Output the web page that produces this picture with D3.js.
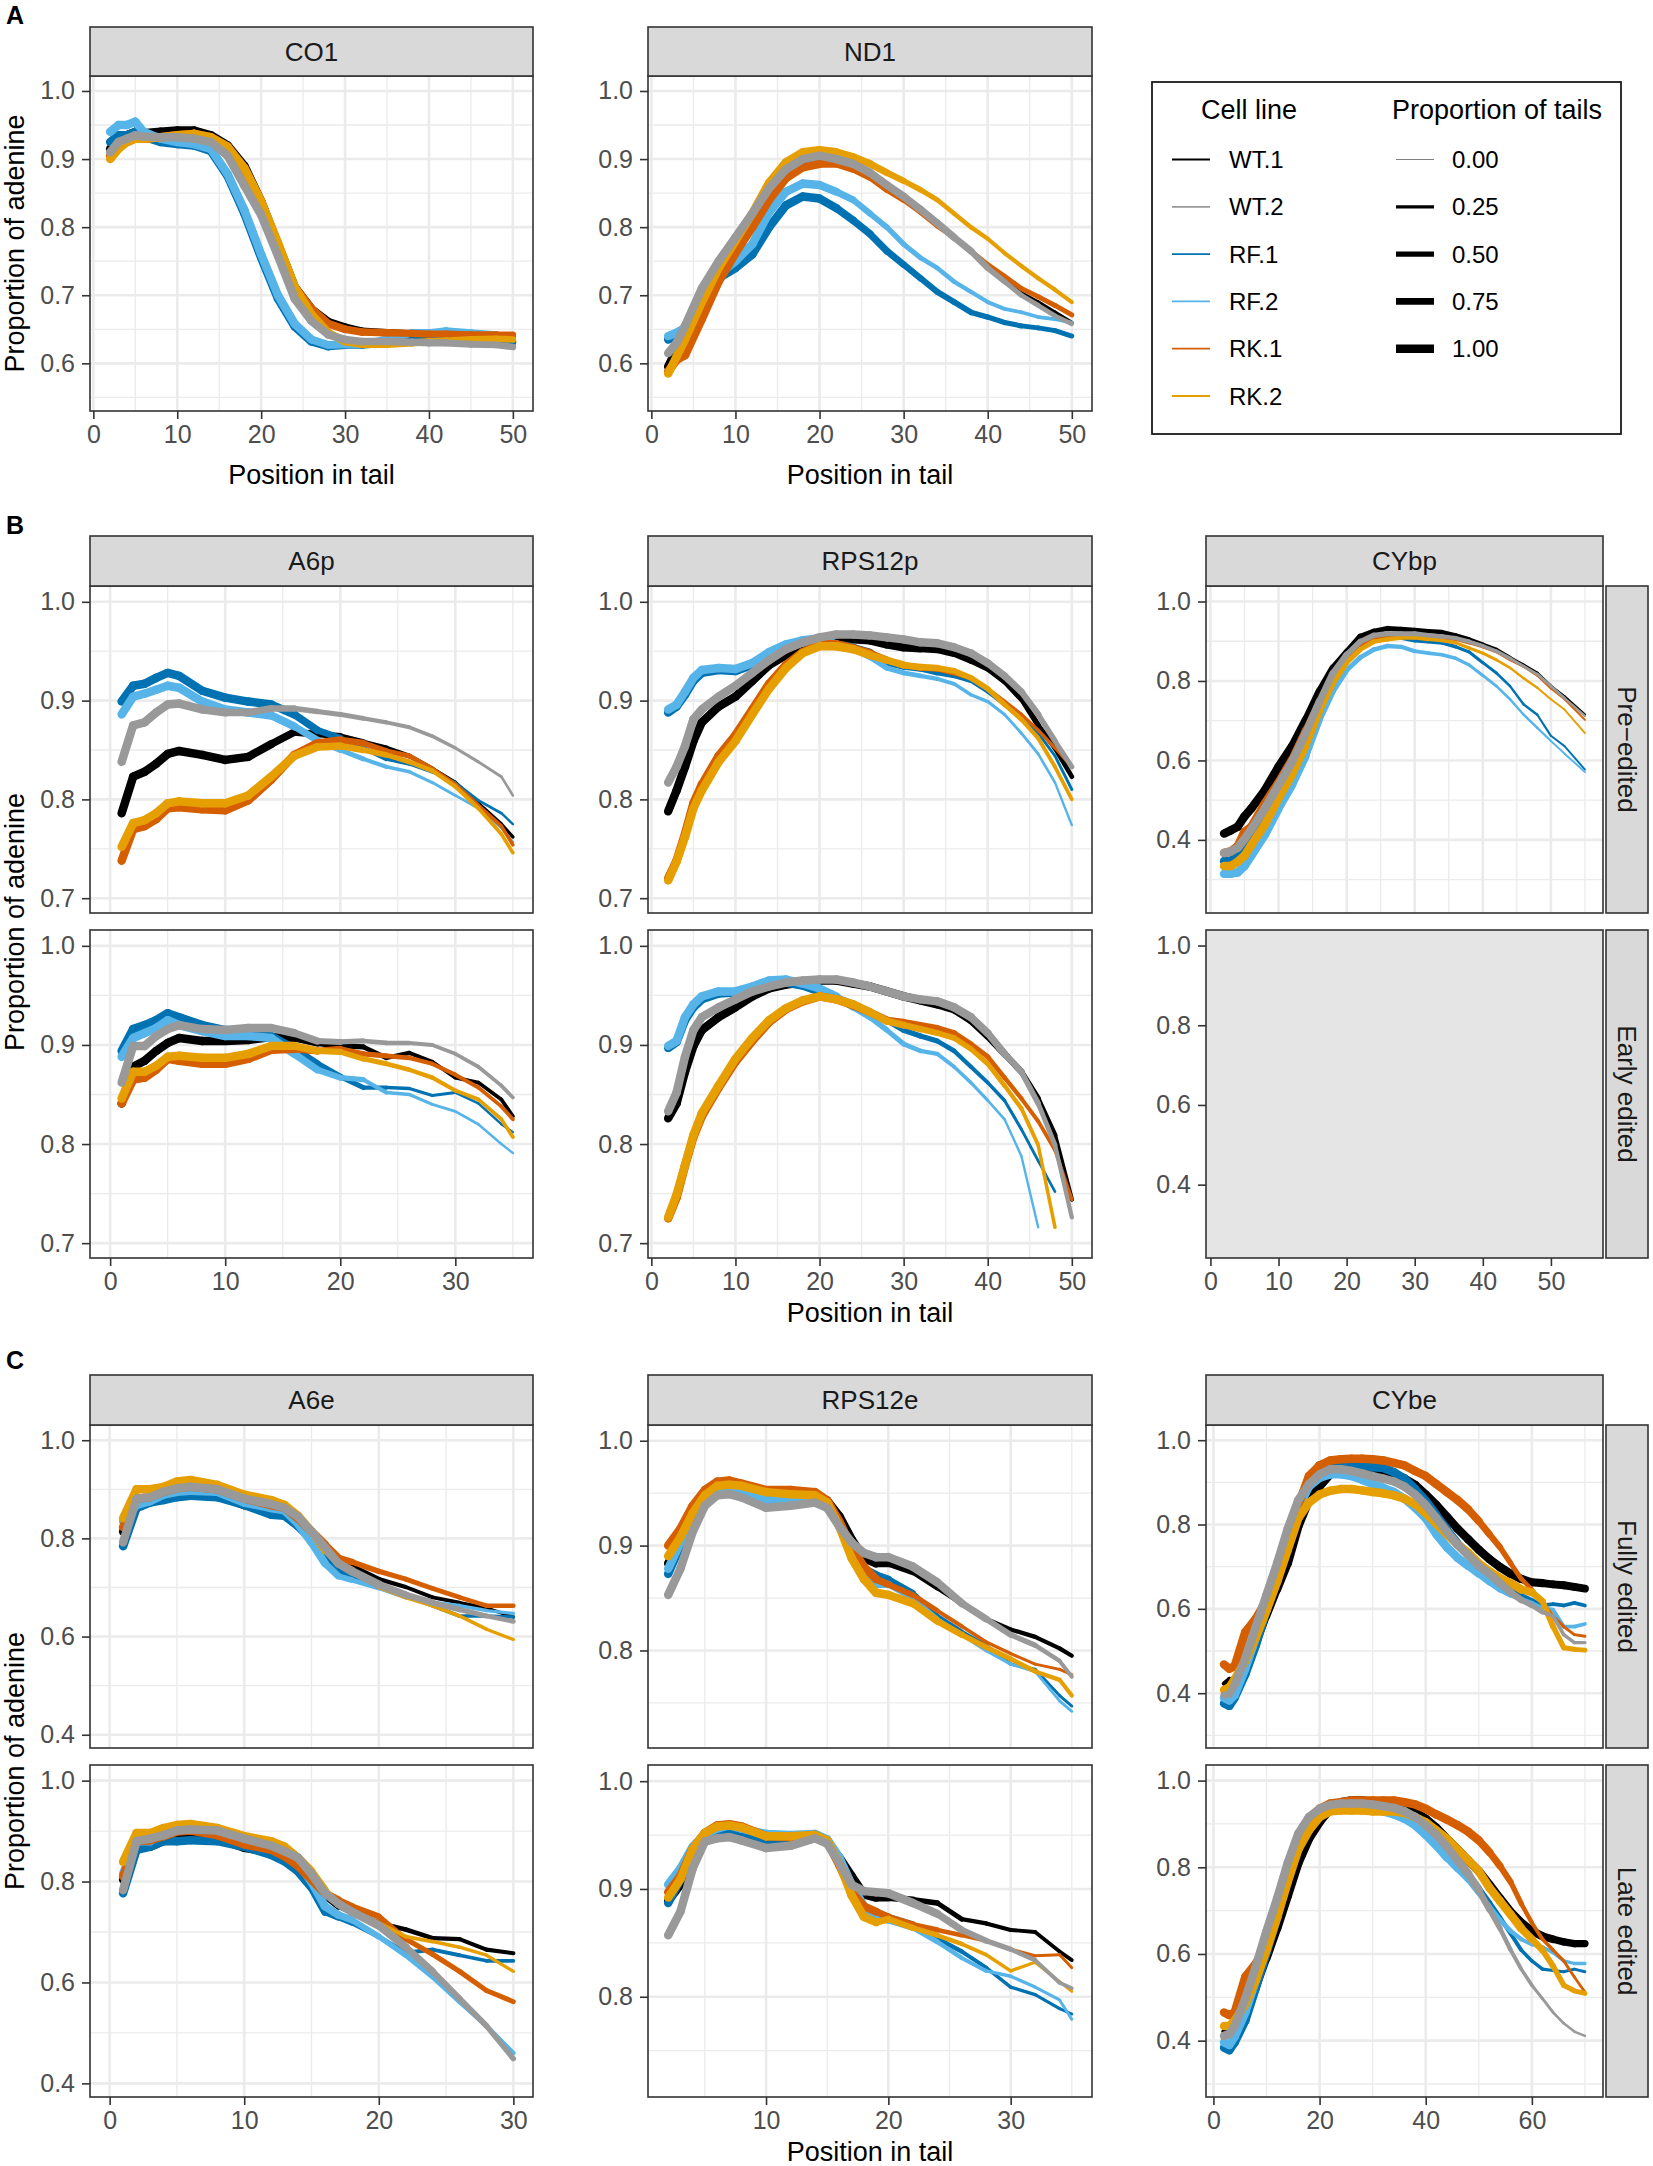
<!DOCTYPE html>
<html>
<head>
<meta charset="utf-8">
<script src="https://cdn.jsdelivr.net/npm/d3@7"></script>
<style>
  body { margin: 0; background: #ffffff; }
</style>
</head>
<body>
<div id="figure"></div>
<script>
// Legend categories
var cellLines = ["WT.1", "WT.2", "RF.1", "RF.2", "RK.1", "RK.2"];
var lineColors = ["#000000", "#999999", "#0072B2", "#56B4E9", "#D55E00", "#E69F00"];
var tailLevels = [0, 0.25, 0.5, 0.75, 1];
var tailLabels = ["0.00", "0.25", "0.50", "0.75", "1.00"];

// Tick labels
var xTicks50 = [0, 10, 20, 30, 40, 50];
var xMinor50 = [5, 15, 25, 35, 45];
var xMinor55 = [5, 15, 25, 35, 45, 55];
var xTicks30 = [0, 10, 20, 30];
var xMinor35 = [5, 15, 25, 35];
var xMinor30 = [5, 15, 25];
var xTicksRpsE = [10, 20, 30];
var xTicks70 = [0, 20, 40, 60];
var xMinor70 = [10, 30, 50, 70];
var yTicksA = [0.6, 0.7, 0.8, 0.9, 1.0];
var yMinorA = [0.55, 0.65, 0.75, 0.85, 0.95];
var yTicksB = [0.7, 0.8, 0.9, 1.0];
var yMinorB = [0.75, 0.85, 0.95];
var yTicksCy = [0.4, 0.6, 0.8, 1.0];
var yMinorCy = [0.3, 0.5, 0.7, 0.9];
var yMinorA6e = [0.5, 0.7, 0.9];
var yTicksRpsE = [0.8, 0.9, 1.0];

// ---- CO1 ----
var co1Pos = [2, 3, 4, 5, 6, 8, 10, 12, 14, 16, 18, 20, 22, 24, 26, 28, 30, 32, 35, 38, 40, 42, 45, 48, 50];
var co1WT1 = [0.915, 0.93, 0.935, 0.94, 0.938, 0.94, 0.942, 0.942, 0.935, 0.92, 0.89, 0.838, 0.775, 0.712, 0.68, 0.661, 0.653, 0.647, 0.645, 0.643, 0.642, 0.642, 0.640, 0.638, 0.632];
var co1WT2 = [0.91, 0.925, 0.93, 0.935, 0.933, 0.932, 0.932, 0.93, 0.925, 0.905, 0.861, 0.818, 0.758, 0.695, 0.662, 0.642, 0.635, 0.632, 0.632, 0.631, 0.630, 0.630, 0.628, 0.627, 0.624];
var co1RF1 = [0.925, 0.935, 0.935, 0.94, 0.933, 0.925, 0.922, 0.92, 0.912, 0.875, 0.82, 0.755, 0.695, 0.654, 0.632, 0.625, 0.627, 0.627, 0.630, 0.633, 0.635, 0.637, 0.637, 0.636, 0.630];
var co1RF2 = [0.94, 0.95, 0.95, 0.955, 0.94, 0.93, 0.925, 0.922, 0.915, 0.878, 0.825, 0.76, 0.70, 0.658, 0.635, 0.627, 0.628, 0.628, 0.635, 0.645, 0.645, 0.648, 0.645, 0.642, 0.638];
var co1RK1 = [0.905, 0.92, 0.925, 0.93, 0.93, 0.932, 0.935, 0.937, 0.932, 0.918, 0.885, 0.836, 0.775, 0.712, 0.68, 0.658, 0.65, 0.646, 0.645, 0.644, 0.643, 0.643, 0.642, 0.642, 0.642];
var co1RK2 = [0.90, 0.915, 0.925, 0.93, 0.93, 0.932, 0.935, 0.937, 0.932, 0.918, 0.887, 0.838, 0.777, 0.712, 0.672, 0.645, 0.632, 0.628, 0.628, 0.63, 0.632, 0.633, 0.635, 0.636, 0.635];
var co1Tails = [1, 1, 1, 1, 1, 1, 1, 1, 1, 1, 1, 1, 1, 1, 0.95, 0.9, 0.9, 0.85, 0.85, 0.8, 0.8, 0.75, 0.75, 0.7, 0.7];

// ---- ND1 ----
var nd1Pos = [2, 3, 4, 6, 8, 10, 12, 14, 16, 18, 20, 22, 24, 26, 28, 30, 32, 34, 36, 38, 40, 42, 44, 46, 48, 50];
var nd1WT1 = [0.595, 0.62, 0.64, 0.69, 0.735, 0.765, 0.805, 0.845, 0.875, 0.893, 0.90, 0.897, 0.888, 0.875, 0.858, 0.842, 0.825, 0.805, 0.785, 0.765, 0.742, 0.722, 0.703, 0.69, 0.675, 0.66];
var nd1WT2 = [0.615, 0.63, 0.655, 0.71, 0.75, 0.785, 0.82, 0.857, 0.885, 0.90, 0.905, 0.90, 0.893, 0.88, 0.862, 0.845, 0.826, 0.806, 0.785, 0.765, 0.74, 0.72, 0.70, 0.685, 0.67, 0.658];
var nd1RF1 = [0.635, 0.64, 0.648, 0.69, 0.725, 0.74, 0.76, 0.80, 0.832, 0.845, 0.842, 0.828, 0.81, 0.79, 0.765, 0.745, 0.725, 0.705, 0.69, 0.675, 0.668, 0.66, 0.655, 0.652, 0.648, 0.64];
var nd1RF2 = [0.64, 0.645, 0.652, 0.695, 0.73, 0.75, 0.775, 0.822, 0.852, 0.864, 0.862, 0.852, 0.84, 0.82, 0.80, 0.775, 0.755, 0.74, 0.72, 0.705, 0.69, 0.68, 0.675, 0.668, 0.665, 0.66];
var nd1RK1 = [0.588, 0.605, 0.612, 0.665, 0.72, 0.762, 0.80, 0.84, 0.872, 0.888, 0.893, 0.893, 0.885, 0.873, 0.855, 0.84, 0.822, 0.802, 0.785, 0.765, 0.745, 0.728, 0.71, 0.698, 0.685, 0.671];
var nd1RK2 = [0.585, 0.61, 0.635, 0.69, 0.74, 0.78, 0.82, 0.865, 0.895, 0.91, 0.913, 0.91, 0.903, 0.893, 0.88, 0.868, 0.855, 0.84, 0.82, 0.80, 0.783, 0.762, 0.743, 0.725, 0.708, 0.69];
var nd1TailsWT1 = [1, 1, 1, 1, 1, 1, 1, 1, 1, 1, 1, 0.9, 0.8, 0.7, 0.6, 0.5, 0.45, 0.4, 0.4, 0.35, 0.35, 0.3, 0.3, 0.3, 0.3, 0.3];
var nd1TailsWT2 = [1, 1, 1, 1, 1, 1, 1, 1, 1, 1, 1, 1, 1, 0.95, 0.9, 0.9, 0.85, 0.8, 0.8, 0.7, 0.6, 0.5, 0.45, 0.45, 0.4, 0.4];
var nd1TailsRF1 = [1, 1, 1, 1, 1, 1, 1, 1, 1, 1, 1, 0.9, 0.85, 0.8, 0.75, 0.7, 0.65, 0.6, 0.6, 0.55, 0.5, 0.5, 0.45, 0.45, 0.45, 0.45];
var nd1TailsRF2 = [1, 1, 1, 1, 1, 1, 1, 1, 1, 1, 1, 0.85, 0.7, 0.6, 0.55, 0.5, 0.45, 0.4, 0.4, 0.35, 0.35, 0.3, 0.3, 0.3, 0.3, 0.3];
var nd1TailsRK1 = [1, 1, 1, 1, 1, 1, 1, 1, 1, 1, 1, 0.85, 0.75, 0.65, 0.6, 0.55, 0.5, 0.5, 0.45, 0.45, 0.45, 0.45, 0.45, 0.45, 0.45, 0.45];
var nd1TailsRK2 = [1, 1, 1, 1, 1, 1, 1, 1, 1, 1, 1, 0.95, 0.9, 0.8, 0.7, 0.6, 0.5, 0.45, 0.4, 0.4, 0.35, 0.35, 0.35, 0.35, 0.35, 0.35];

// ---- A6p ----
var a6pPos = [1, 2, 3, 4, 5, 6, 8, 10, 12, 14, 16, 18, 20, 22, 24, 26, 28, 30, 32, 34, 35];
var a6pPreWT1 = [0.786, 0.823, 0.828, 0.836, 0.846, 0.849, 0.845, 0.84, 0.843, 0.856, 0.868, 0.866, 0.864, 0.858, 0.852, 0.844, 0.831, 0.817, 0.796, 0.775, 0.762];
var a6pPreWT2 = [0.838, 0.875, 0.878, 0.888, 0.896, 0.897, 0.891, 0.888, 0.888, 0.892, 0.892, 0.889, 0.886, 0.882, 0.878, 0.873, 0.864, 0.852, 0.838, 0.823, 0.804];
var a6pPreRF1 = [0.899, 0.915, 0.917, 0.923, 0.928, 0.925, 0.91, 0.903, 0.899, 0.896, 0.886, 0.87, 0.862, 0.852, 0.841, 0.836, 0.828, 0.817, 0.799, 0.786, 0.775];
var a6pPreRF2 = [0.886, 0.904, 0.907, 0.911, 0.915, 0.913, 0.899, 0.891, 0.888, 0.885, 0.874, 0.86, 0.85, 0.841, 0.833, 0.828, 0.817, 0.804, 0.791, 0.771, 0.757];
var a6pPreRK1 = [0.738, 0.77, 0.773, 0.78, 0.791, 0.792, 0.79, 0.789, 0.799, 0.82, 0.845, 0.857, 0.86, 0.857, 0.849, 0.844, 0.831, 0.815, 0.794, 0.773, 0.754];
var a6pPreRK2 = [0.752, 0.776, 0.779, 0.786, 0.796, 0.798, 0.796, 0.796, 0.804, 0.823, 0.844, 0.853, 0.854, 0.85, 0.845, 0.838, 0.829, 0.813, 0.791, 0.765, 0.746];
var a6pPreTailsWT1 = [1, 1, 1, 1, 1, 1, 1, 1, 1, 0.9, 0.8, 0.7, 0.6, 0.5, 0.45, 0.4, 0.35, 0.3, 0.3, 0.25, 0.25];
var a6pPreTailsWT2 = [1, 1, 1, 1, 1, 1, 1, 0.9, 0.8, 0.7, 0.6, 0.5, 0.45, 0.4, 0.35, 0.3, 0.3, 0.25, 0.2, 0.2, 0.15];
var a6pPreTailsRF1 = [1, 1, 1, 1, 1, 1, 1, 1, 1, 1, 0.9, 0.8, 0.6, 0.45, 0.35, 0.3, 0.25, 0.2, 0.2, 0.15, 0.15];
var a6pPreTailsRF2 = [1, 1, 1, 1, 1, 1, 1, 1, 1, 1, 0.85, 0.7, 0.5, 0.4, 0.3, 0.25, 0.2, 0.2, 0.15, 0.15, 0.15];
var a6pPreTailsRK = [1, 1, 1, 1, 1, 1, 1, 1, 1, 1, 1, 0.9, 0.8, 0.6, 0.5, 0.45, 0.4, 0.35, 0.3, 0.3, 0.25];

var a6pEarlyWT1 = [0.841, 0.878, 0.884, 0.894, 0.902, 0.907, 0.904, 0.904, 0.905, 0.908, 0.907, 0.902, 0.899, 0.898, 0.887, 0.892, 0.883, 0.867, 0.862, 0.845, 0.828];
var a6pEarlyWT2 = [0.862, 0.899, 0.899, 0.909, 0.916, 0.92, 0.916, 0.915, 0.917, 0.917, 0.912, 0.904, 0.903, 0.904, 0.902, 0.902, 0.90, 0.891, 0.878, 0.859, 0.847];
var a6pEarlyRF1 = [0.894, 0.916, 0.92, 0.925, 0.932, 0.928, 0.92, 0.915, 0.914, 0.909, 0.896, 0.881, 0.868, 0.857, 0.857, 0.856, 0.849, 0.852, 0.841, 0.82, 0.812];
var a6pEarlyRF2 = [0.888, 0.907, 0.912, 0.917, 0.925, 0.92, 0.914, 0.909, 0.909, 0.907, 0.891, 0.875, 0.867, 0.865, 0.852, 0.85, 0.84, 0.833, 0.82, 0.80, 0.791];
var a6pEarlyRK1 = [0.841, 0.865, 0.867, 0.875, 0.886, 0.884, 0.881, 0.881, 0.886, 0.895, 0.896, 0.894, 0.896, 0.891, 0.889, 0.887, 0.881, 0.87, 0.857, 0.838, 0.825];
var a6pEarlyRK2 = [0.846, 0.873, 0.873, 0.879, 0.888, 0.889, 0.887, 0.887, 0.891, 0.899, 0.899, 0.894, 0.893, 0.886, 0.881, 0.875, 0.867, 0.854, 0.845, 0.825, 0.807];
var a6pEarlyTailsWT = [1, 1, 1, 1, 1, 1, 1, 1, 1, 1, 0.9, 0.7, 0.55, 0.45, 0.4, 0.35, 0.3, 0.3, 0.3, 0.3, 0.3];
var a6pEarlyTailsRF = [1, 1, 1, 1, 1, 1, 1, 1, 1, 1, 0.9, 0.75, 0.55, 0.4, 0.3, 0.25, 0.2, 0.2, 0.15, 0.15, 0.15];
var a6pEarlyTailsRK = [1, 1, 1, 1, 1, 1, 1, 1, 1, 1, 0.9, 0.75, 0.6, 0.5, 0.45, 0.4, 0.35, 0.35, 0.3, 0.3, 0.3];

// ---- RPS12p ----
var rpsPPos = [2, 3, 4, 5, 6, 8, 10, 12, 14, 16, 18, 20, 22, 24, 26, 28, 30, 32, 34, 36, 38, 40, 42, 44, 46, 48, 50];
var rpsPreWT1 = [0.788, 0.809, 0.833, 0.859, 0.878, 0.894, 0.904, 0.92, 0.936, 0.946, 0.954, 0.961, 0.962, 0.962, 0.961, 0.957, 0.954, 0.953, 0.952, 0.948, 0.941, 0.933, 0.92, 0.902, 0.875, 0.852, 0.823];
var rpsPreWT2 = [0.817, 0.833, 0.854, 0.881, 0.891, 0.904, 0.915, 0.928, 0.941, 0.952, 0.959, 0.964, 0.967, 0.967, 0.966, 0.964, 0.962, 0.959, 0.958, 0.954, 0.948, 0.938, 0.925, 0.909, 0.886, 0.859, 0.833];
var rpsPreRF1 = [0.888, 0.894, 0.906, 0.92, 0.928, 0.931, 0.93, 0.936, 0.947, 0.955, 0.959, 0.961, 0.957, 0.954, 0.949, 0.938, 0.934, 0.932, 0.928, 0.925, 0.92, 0.909, 0.896, 0.881, 0.867, 0.844, 0.81];
var rpsPreRF2 = [0.891, 0.896, 0.909, 0.923, 0.931, 0.933, 0.932, 0.938, 0.949, 0.957, 0.961, 0.963, 0.957, 0.952, 0.944, 0.933, 0.928, 0.925, 0.922, 0.917, 0.906, 0.899, 0.886, 0.867, 0.846, 0.817, 0.774];
var rpsPreRK1 = [0.72, 0.738, 0.765, 0.796, 0.815, 0.844, 0.865, 0.891, 0.917, 0.936, 0.949, 0.957, 0.957, 0.953, 0.948, 0.941, 0.936, 0.933, 0.932, 0.928, 0.923, 0.912, 0.899, 0.886, 0.87, 0.852, 0.833];
var rpsPreRK2 = [0.718, 0.737, 0.762, 0.791, 0.809, 0.838, 0.859, 0.886, 0.912, 0.933, 0.948, 0.955, 0.955, 0.952, 0.946, 0.941, 0.936, 0.934, 0.933, 0.93, 0.923, 0.912, 0.896, 0.881, 0.862, 0.833, 0.80];
var rpsPreTailsWT1 = [1, 1, 1, 1, 1, 1, 1, 1, 1, 1, 1, 1, 1, 1, 1, 1, 1, 0.95, 0.9, 0.85, 0.8, 0.75, 0.7, 0.6, 0.5, 0.45, 0.4];
var rpsPreTailsWT2 = [1, 1, 1, 1, 1, 1, 1, 1, 1, 1, 1, 1, 1, 1, 1, 1, 1, 1, 1, 0.95, 0.9, 0.85, 0.8, 0.7, 0.6, 0.5, 0.45];
var rpsPreTailsRF1 = [1, 1, 1, 1, 1, 1, 1, 1, 1, 1, 1, 1, 1, 0.8, 0.7, 0.6, 0.55, 0.5, 0.45, 0.4, 0.35, 0.3, 0.3, 0.25, 0.2, 0.2, 0.2];
var rpsPreTailsRF2 = [1, 1, 1, 1, 1, 1, 1, 1, 1, 1, 1, 1, 0.8, 0.65, 0.55, 0.5, 0.45, 0.4, 0.35, 0.3, 0.25, 0.25, 0.2, 0.2, 0.2, 0.15, 0.15];
var rpsPreTailsRK1 = [1, 1, 1, 1, 1, 1, 1, 1, 1, 1, 1, 1, 1, 1, 0.85, 0.7, 0.6, 0.55, 0.5, 0.45, 0.4, 0.35, 0.3, 0.3, 0.25, 0.25, 0.2];
var rpsPreTailsRK2 = [1, 1, 1, 1, 1, 1, 1, 1, 1, 1, 1, 1, 1, 1, 0.9, 0.8, 0.75, 0.7, 0.65, 0.6, 0.55, 0.5, 0.45, 0.4, 0.35, 0.3, 0.3];

var rpsEarlyWT1 = [0.826, 0.841, 0.873, 0.899, 0.915, 0.928, 0.938, 0.949, 0.957, 0.961, 0.963, 0.965, 0.965, 0.962, 0.959, 0.954, 0.949, 0.945, 0.941, 0.936, 0.925, 0.909, 0.891, 0.873, 0.846, 0.809, 0.744];
var rpsEarlyWT2 = [0.833, 0.852, 0.888, 0.915, 0.928, 0.938, 0.946, 0.954, 0.959, 0.963, 0.965, 0.966, 0.966, 0.963, 0.959, 0.954, 0.949, 0.946, 0.944, 0.938, 0.928, 0.912, 0.891, 0.873, 0.841, 0.799, 0.726];
var rpsEarlyRF1 = [0.897, 0.903, 0.925, 0.938, 0.946, 0.952, 0.953, 0.957, 0.962, 0.963, 0.96, 0.954, 0.947, 0.941, 0.933, 0.925, 0.915, 0.909, 0.904, 0.894, 0.878, 0.862, 0.844, 0.815, 0.783, 0.752, null];
var rpsEarlyRF2 = [0.899, 0.904, 0.928, 0.941, 0.949, 0.954, 0.954, 0.959, 0.965, 0.966, 0.962, 0.957, 0.949, 0.938, 0.928, 0.915, 0.901, 0.894, 0.891, 0.878, 0.862, 0.844, 0.825, 0.788, 0.716, null, null];
var rpsEarlyRK1 = [0.725, 0.746, 0.778, 0.807, 0.828, 0.857, 0.883, 0.904, 0.923, 0.936, 0.944, 0.949, 0.946, 0.94, 0.933, 0.925, 0.923, 0.92, 0.917, 0.912, 0.901, 0.888, 0.867, 0.846, 0.823, 0.794, 0.744];
var rpsEarlyRK2 = [0.726, 0.749, 0.779, 0.809, 0.831, 0.859, 0.886, 0.907, 0.925, 0.937, 0.945, 0.949, 0.946, 0.941, 0.933, 0.924, 0.92, 0.916, 0.912, 0.907, 0.896, 0.881, 0.859, 0.836, 0.799, 0.716, null];
var rpsEarlyTailsWT1 = [1, 1, 1, 1, 1, 1, 1, 1, 1, 1, 1, 1, 1, 1, 1, 1, 1, 1, 1, 0.95, 0.9, 0.8, 0.7, 0.6, 0.5, 0.4, 0.35];
var rpsEarlyTailsWT2 = [1, 1, 1, 1, 1, 1, 1, 1, 1, 1, 1, 1, 1, 1, 1, 1, 1, 1, 1, 1, 0.95, 0.85, 0.75, 0.6, 0.5, 0.4, 0.35];
var rpsEarlyTailsRF1 = [1, 1, 1, 1, 1, 1, 1, 1, 1, 1, 1, 1, 0.9, 0.8, 0.7, 0.6, 0.55, 0.5, 0.45, 0.4, 0.35, 0.3, 0.25, 0.2, 0.2, 0.15, 0.15];
var rpsEarlyTailsRF2 = [1, 1, 1, 1, 1, 1, 1, 1, 1, 1, 1, 1, 0.85, 0.7, 0.6, 0.5, 0.45, 0.4, 0.35, 0.3, 0.25, 0.2, 0.15, 0.15, 0.15, 0.15, 0.15];
var rpsEarlyTailsRK1 = [1, 1, 1, 1, 1, 1, 1, 1, 1, 1, 1, 1, 1, 1, 0.9, 0.8, 0.7, 0.65, 0.6, 0.55, 0.5, 0.45, 0.4, 0.35, 0.3, 0.3, 0.25];
var rpsEarlyTailsRK2 = [1, 1, 1, 1, 1, 1, 1, 1, 1, 1, 1, 1, 1, 1, 0.9, 0.8, 0.7, 0.65, 0.6, 0.55, 0.5, 0.45, 0.4, 0.35, 0.3, 0.25, 0.25];

// ---- CYbp ----
var cybpPos = [2, 3, 4, 5, 6, 8, 10, 12, 14, 16, 18, 20, 22, 24, 26, 28, 30, 32, 34, 36, 38, 40, 42, 44, 46, 48, 50, 52, 55];
var cybpWT1 = [0.416, 0.424, 0.433, 0.459, 0.479, 0.525, 0.584, 0.636, 0.702, 0.774, 0.833, 0.873, 0.912, 0.925, 0.932, 0.93, 0.928, 0.925, 0.923, 0.915, 0.905, 0.892, 0.879, 0.859, 0.84, 0.82, 0.787, 0.761, 0.715];
var cybpWT2 = [0.367, 0.371, 0.38, 0.402, 0.426, 0.479, 0.538, 0.597, 0.669, 0.748, 0.82, 0.866, 0.899, 0.915, 0.919, 0.919, 0.919, 0.915, 0.912, 0.908, 0.899, 0.888, 0.875, 0.857, 0.837, 0.817, 0.787, 0.757, 0.712];
var cybpRF1 = [0.347, 0.347, 0.36, 0.38, 0.406, 0.459, 0.518, 0.577, 0.649, 0.728, 0.80, 0.853, 0.886, 0.905, 0.909, 0.909, 0.902, 0.899, 0.896, 0.886, 0.873, 0.846, 0.82, 0.787, 0.741, 0.715, 0.662, 0.636, 0.577];
var cybpRF2 = [0.315, 0.315, 0.318, 0.334, 0.36, 0.413, 0.479, 0.538, 0.61, 0.702, 0.774, 0.827, 0.859, 0.879, 0.888, 0.886, 0.875, 0.87, 0.866, 0.857, 0.84, 0.814, 0.787, 0.754, 0.715, 0.682, 0.649, 0.617, 0.571];
var cybpRK1 = [0.367, 0.371, 0.384, 0.42, 0.433, 0.492, 0.544, 0.603, 0.676, 0.748, 0.814, 0.859, 0.892, 0.909, 0.915, 0.915, 0.915, 0.912, 0.909, 0.905, 0.896, 0.886, 0.873, 0.853, 0.836, 0.814, 0.781, 0.754, 0.702];
var cybpRK2 = [0.334, 0.334, 0.345, 0.36, 0.387, 0.439, 0.505, 0.564, 0.636, 0.722, 0.794, 0.846, 0.879, 0.899, 0.905, 0.909, 0.909, 0.905, 0.902, 0.896, 0.883, 0.87, 0.853, 0.833, 0.807, 0.783, 0.754, 0.728, 0.669];
var cybpTailsWT = [1, 1, 1, 1, 1, 1, 1, 1, 0.9, 0.8, 0.7, 0.6, 0.55, 0.5, 0.5, 0.45, 0.45, 0.4, 0.4, 0.35, 0.35, 0.3, 0.3, 0.25, 0.2, 0.2, 0.2, 0.15, 0.15];
var cybpTailsOther = [1, 1, 1, 1, 1, 1, 1, 0.9, 0.8, 0.65, 0.55, 0.5, 0.45, 0.4, 0.4, 0.35, 0.35, 0.3, 0.3, 0.25, 0.25, 0.2, 0.2, 0.15, 0.15, 0.15, 0.1, 0.1, 0.1];

// ---- A6e ----
var a6ePos = [1, 2, 3, 4, 5, 6, 8, 10, 12, 13, 14, 15, 16, 17, 18, 20, 22, 24, 26, 28, 30];
var a6eFullWT1 = [0.814, 0.873, 0.876, 0.884, 0.889, 0.895, 0.887, 0.868, 0.857, 0.852, 0.833, 0.809, 0.782, 0.76, 0.744, 0.717, 0.701, 0.68, 0.669, 0.658, 0.64];
var a6eFullWT2 = [0.792, 0.881, 0.884, 0.895, 0.902, 0.905, 0.90, 0.881, 0.87, 0.862, 0.844, 0.814, 0.782, 0.749, 0.733, 0.706, 0.685, 0.669, 0.655, 0.642, 0.631];
var a6eFullRF1 = [0.784, 0.862, 0.873, 0.878, 0.884, 0.887, 0.884, 0.868, 0.848, 0.846, 0.825, 0.798, 0.76, 0.733, 0.723, 0.706, 0.685, 0.663, 0.642, 0.642, 0.64];
var a6eFullRF2 = [0.835, 0.868, 0.876, 0.889, 0.895, 0.897, 0.895, 0.873, 0.862, 0.857, 0.83, 0.792, 0.749, 0.723, 0.715, 0.699, 0.68, 0.669, 0.663, 0.653, 0.647];
var a6eFullRK1 = [0.823, 0.881, 0.884, 0.895, 0.902, 0.905, 0.90, 0.881, 0.868, 0.862, 0.841, 0.814, 0.787, 0.76, 0.752, 0.733, 0.717, 0.698, 0.68, 0.663, 0.663];
var a6eFullRK2 = [0.841, 0.90, 0.90, 0.905, 0.916, 0.919, 0.909, 0.889, 0.878, 0.868, 0.846, 0.814, 0.776, 0.749, 0.737, 0.701, 0.68, 0.663, 0.642, 0.615, 0.594];
var a6eFullTailsWT2 = [1, 1, 1, 1, 1, 1, 1, 1, 1, 1, 1, 1, 1, 1, 1, 0.9, 0.75, 0.6, 0.5, 0.45, 0.4];
var a6eFullTailsRK1 = [1, 1, 1, 1, 1, 1, 1, 1, 1, 1, 1, 1, 1, 0.8, 0.6, 0.5, 0.45, 0.45, 0.4, 0.4, 0.4];
var a6eFullTailsOther = [1, 1, 1, 1, 1, 1, 1, 1, 1, 1, 1, 1, 0.8, 0.65, 0.5, 0.4, 0.35, 0.3, 0.3, 0.25, 0.25];

var a6eLateWT1 = [0.804, 0.869, 0.869, 0.88, 0.885, 0.89, 0.885, 0.867, 0.858, 0.85, 0.837, 0.804, 0.772, 0.751, 0.74, 0.718, 0.705, 0.688, 0.686, 0.665, 0.658];
var a6eLateWT2 = [0.783, 0.88, 0.885, 0.892, 0.901, 0.903, 0.901, 0.885, 0.871, 0.86, 0.847, 0.815, 0.777, 0.756, 0.74, 0.713, 0.67, 0.622, 0.568, 0.514, 0.449];
var a6eLateRF1 = [0.777, 0.863, 0.869, 0.88, 0.88, 0.882, 0.88, 0.869, 0.853, 0.84, 0.82, 0.788, 0.74, 0.729, 0.718, 0.691, 0.659, 0.665, 0.654, 0.643, 0.643];
var a6eLateRF2 = [0.815, 0.88, 0.88, 0.896, 0.906, 0.906, 0.901, 0.88, 0.869, 0.855, 0.837, 0.799, 0.751, 0.734, 0.724, 0.691, 0.654, 0.611, 0.562, 0.514, 0.46];
var a6eLateRK1 = [0.81, 0.88, 0.882, 0.89, 0.899, 0.901, 0.892, 0.874, 0.863, 0.85, 0.831, 0.804, 0.777, 0.763, 0.751, 0.731, 0.686, 0.656, 0.622, 0.584, 0.562];
var a6eLateRK2 = [0.839, 0.896, 0.896, 0.906, 0.912, 0.914, 0.906, 0.89, 0.88, 0.869, 0.847, 0.82, 0.783, 0.756, 0.74, 0.718, 0.691, 0.681, 0.67, 0.654, 0.622];
var a6eLateTailsWT1 = [1, 1, 1, 1, 1, 1, 1, 1, 1, 1, 1, 1, 0.8, 0.6, 0.5, 0.45, 0.4, 0.4, 0.35, 0.35, 0.35];
var a6eLateTailsWT2 = [1, 1, 1, 1, 1, 1, 1, 1, 1, 1, 1, 1, 1, 1, 1, 1, 0.85, 0.7, 0.6, 0.55, 0.5];
var a6eLateTailsRF1 = [1, 1, 1, 1, 1, 1, 1, 1, 1, 1, 1, 1, 0.8, 0.6, 0.5, 0.4, 0.35, 0.35, 0.3, 0.3, 0.3];
var a6eLateTailsRF2 = [1, 1, 1, 1, 1, 1, 1, 1, 1, 1, 1, 1, 1, 0.85, 0.7, 0.55, 0.5, 0.45, 0.45, 0.4, 0.4];
var a6eLateTailsRK1 = [1, 1, 1, 1, 1, 1, 1, 1, 1, 1, 1, 1, 1, 0.8, 0.65, 0.55, 0.5, 0.5, 0.5, 0.45, 0.45];
var a6eLateTailsRK2 = [1, 1, 1, 1, 1, 1, 1, 1, 1, 1, 1, 1, 0.75, 0.55, 0.45, 0.35, 0.3, 0.3, 0.25, 0.25, 0.25];

// ---- RPS12e ----
var rpsEPos = [2, 3, 4, 5, 6, 7, 8, 10, 12, 14, 15, 16, 17, 18, 19, 20, 22, 24, 26, 28, 30, 32, 34, 35];
var rpsFullWT1 = [0.883, 0.903, 0.926, 0.946, 0.953, 0.954, 0.952, 0.944, 0.946, 0.947, 0.943, 0.928, 0.906, 0.888, 0.883, 0.883, 0.875, 0.86, 0.845, 0.83, 0.82, 0.813, 0.802, 0.795];
var rpsFullWT2 = [0.853, 0.878, 0.913, 0.938, 0.948, 0.949, 0.946, 0.936, 0.938, 0.941, 0.936, 0.918, 0.903, 0.893, 0.889, 0.889, 0.88, 0.865, 0.845, 0.83, 0.815, 0.805, 0.79, 0.775];
var rpsFullRF1 = [0.873, 0.90, 0.933, 0.951, 0.954, 0.953, 0.951, 0.943, 0.944, 0.947, 0.942, 0.921, 0.898, 0.878, 0.872, 0.868, 0.855, 0.833, 0.818, 0.805, 0.787, 0.782, 0.757, 0.747];
var rpsFullRF2 = [0.878, 0.903, 0.934, 0.951, 0.956, 0.955, 0.953, 0.943, 0.944, 0.947, 0.942, 0.918, 0.893, 0.874, 0.863, 0.863, 0.85, 0.83, 0.815, 0.80, 0.787, 0.78, 0.752, 0.742];
var rpsFullRK1 = [0.90, 0.916, 0.938, 0.953, 0.961, 0.962, 0.959, 0.953, 0.953, 0.951, 0.943, 0.923, 0.898, 0.88, 0.868, 0.863, 0.853, 0.838, 0.823, 0.808, 0.797, 0.787, 0.782, 0.777];
var rpsFullRK2 = [0.89, 0.908, 0.931, 0.948, 0.957, 0.958, 0.957, 0.951, 0.949, 0.948, 0.941, 0.918, 0.888, 0.868, 0.855, 0.853, 0.845, 0.828, 0.815, 0.803, 0.792, 0.78, 0.772, 0.757];
var rpsFullTailsWT1 = [1, 1, 1, 1, 1, 1, 1, 1, 1, 1, 1, 1, 1, 1, 1, 0.8, 0.6, 0.5, 0.45, 0.4, 0.4, 0.35, 0.35, 0.35];
var rpsFullTailsWT2 = [1, 1, 1, 1, 1, 1, 1, 1, 1, 1, 1, 1, 1, 1, 1, 1, 1, 1, 0.85, 0.7, 0.55, 0.45, 0.35, 0.3];
var rpsFullTailsRF = [1, 1, 1, 1, 1, 1, 1, 1, 1, 1, 1, 1, 1, 1, 0.85, 0.7, 0.5, 0.4, 0.3, 0.25, 0.25, 0.2, 0.2, 0.2];
var rpsFullTailsRK2 = [1, 1, 1, 1, 1, 1, 1, 1, 1, 1, 1, 1, 1, 1, 1, 1, 0.9, 0.75, 0.6, 0.5, 0.45, 0.4, 0.35, 0.35];

var rpsLateWT1 = [0.889, 0.904, 0.932, 0.947, 0.952, 0.953, 0.95, 0.944, 0.945, 0.948, 0.944, 0.929, 0.912, 0.895, 0.892, 0.892, 0.89, 0.887, 0.872, 0.868, 0.862, 0.86, 0.842, 0.834];
var rpsLateWT2 = [0.857, 0.879, 0.919, 0.944, 0.947, 0.948, 0.945, 0.938, 0.94, 0.947, 0.942, 0.924, 0.904, 0.898, 0.897, 0.896, 0.887, 0.877, 0.862, 0.852, 0.844, 0.834, 0.813, 0.808];
var rpsLateRF1 = [0.887, 0.909, 0.937, 0.949, 0.954, 0.953, 0.951, 0.946, 0.946, 0.949, 0.944, 0.927, 0.902, 0.882, 0.877, 0.874, 0.867, 0.854, 0.842, 0.827, 0.809, 0.802, 0.789, 0.784];
var rpsLateRF2 = [0.904, 0.919, 0.939, 0.951, 0.956, 0.959, 0.956, 0.951, 0.95, 0.951, 0.946, 0.929, 0.904, 0.884, 0.874, 0.871, 0.864, 0.851, 0.836, 0.824, 0.819, 0.809, 0.797, 0.779];
var rpsLateRK1 = [0.897, 0.912, 0.937, 0.952, 0.959, 0.96, 0.958, 0.949, 0.948, 0.95, 0.944, 0.922, 0.897, 0.884, 0.879, 0.874, 0.867, 0.862, 0.857, 0.852, 0.844, 0.838, 0.839, 0.827];
var rpsLateRK2 = [0.892, 0.909, 0.937, 0.952, 0.958, 0.959, 0.957, 0.949, 0.949, 0.95, 0.945, 0.924, 0.894, 0.874, 0.869, 0.872, 0.864, 0.857, 0.849, 0.839, 0.824, 0.832, 0.814, 0.805];
var rpsLateTailsWT1 = [1, 1, 1, 1, 1, 1, 1, 1, 1, 1, 1, 1, 1, 1, 1, 0.8, 0.6, 0.5, 0.4, 0.35, 0.35, 0.3, 0.3, 0.3];
var rpsLateTailsWT2 = [1, 1, 1, 1, 1, 1, 1, 1, 1, 1, 1, 1, 1, 1, 1, 1, 1, 0.85, 0.7, 0.55, 0.45, 0.35, 0.3, 0.3];
var rpsLateTailsOther = [1, 1, 1, 1, 1, 1, 1, 1, 1, 1, 1, 1, 1, 1, 0.85, 0.7, 0.55, 0.45, 0.35, 0.3, 0.25, 0.25, 0.2, 0.2];

// ---- CYbe ----
var cybePos = [2, 3, 4, 6, 8, 10, 12, 14, 16, 18, 20, 22, 24, 26, 28, 30, 32, 34, 36, 38, 40, 42, 44, 46, 48, 50, 52, 54, 56, 58, 60, 62, 64, 66, 68, 70];
var cybeFullWT1 = [0.423, 0.433, 0.42, 0.445, 0.514, 0.583, 0.646, 0.708, 0.796, 0.858, 0.89, 0.919, 0.931, 0.934, 0.931, 0.927, 0.924, 0.919, 0.909, 0.894, 0.871, 0.846, 0.818, 0.79, 0.765, 0.74, 0.718, 0.699, 0.683, 0.671, 0.663, 0.661, 0.658, 0.656, 0.652, 0.648];
var cybeFullWT2 = [0.395, 0.398, 0.42, 0.483, 0.558, 0.633, 0.708, 0.79, 0.858, 0.896, 0.919, 0.931, 0.931, 0.927, 0.921, 0.915, 0.909, 0.902, 0.89, 0.871, 0.846, 0.815, 0.783, 0.752, 0.727, 0.702, 0.683, 0.661, 0.639, 0.621, 0.608, 0.592, 0.583, 0.539, 0.52, 0.52];
var cybeFullRF1 = [0.376, 0.37, 0.389, 0.445, 0.514, 0.596, 0.677, 0.765, 0.846, 0.909, 0.94, 0.949, 0.949, 0.944, 0.94, 0.936, 0.934, 0.924, 0.909, 0.884, 0.856, 0.823, 0.79, 0.758, 0.733, 0.708, 0.689, 0.671, 0.652, 0.633, 0.621, 0.608, 0.611, 0.608, 0.614, 0.608];
var cybeFullRF2 = [0.389, 0.383, 0.395, 0.458, 0.533, 0.608, 0.683, 0.765, 0.84, 0.89, 0.911, 0.919, 0.919, 0.915, 0.906, 0.896, 0.887, 0.877, 0.861, 0.84, 0.815, 0.777, 0.746, 0.721, 0.702, 0.683, 0.664, 0.646, 0.633, 0.623, 0.614, 0.602, 0.598, 0.558, 0.558, 0.564];
var cybeFullRK1 = [0.468, 0.458, 0.464, 0.545, 0.577, 0.62, 0.689, 0.765, 0.846, 0.915, 0.94, 0.952, 0.955, 0.956, 0.956, 0.955, 0.952, 0.946, 0.94, 0.927, 0.915, 0.896, 0.877, 0.858, 0.836, 0.808, 0.777, 0.746, 0.708, 0.671, 0.646, 0.614, 0.583, 0.558, 0.539, 0.535];
var cybeFullRK2 = [0.408, 0.414, 0.433, 0.477, 0.533, 0.596, 0.664, 0.74, 0.815, 0.852, 0.871, 0.88, 0.884, 0.884, 0.881, 0.877, 0.874, 0.869, 0.861, 0.848, 0.827, 0.802, 0.777, 0.752, 0.733, 0.708, 0.689, 0.673, 0.661, 0.646, 0.639, 0.618, 0.558, 0.508, 0.504, 0.502];
var cybeFullTailsWT1 = [0.4, 0.4, 0.5, 0.6, 0.7, 0.8, 0.9, 1, 1, 1, 1, 1, 1, 1, 1, 1, 1, 1, 1, 1, 1, 1, 1, 1, 1, 1, 1, 1, 1, 0.95, 0.95, 0.9, 0.9, 0.9, 0.9, 0.9];
var cybeFullTailsWT2 = [0.8, 0.8, 0.9, 1, 1, 1, 1, 1, 1, 1, 1, 1, 1, 1, 1, 1, 1, 1, 1, 1, 1, 1, 1, 1, 1, 1, 1, 1, 0.8, 0.6, 0.45, 0.35, 0.3, 0.3, 0.25, 0.25];
var cybeFullTailsRF1 = [1, 1, 1, 1, 1, 1, 1, 1, 1, 1, 1, 1, 1, 1, 1, 1, 1, 1, 1, 1, 1, 1, 0.8, 0.7, 0.6, 0.55, 0.5, 0.45, 0.4, 0.35, 0.3, 0.3, 0.3, 0.3, 0.3, 0.3];
var cybeFullTailsRF2 = [1, 1, 1, 1, 1, 1, 1, 1, 1, 1, 1, 1, 1, 1, 1, 1, 1, 1, 1, 1, 1, 1, 1, 1, 1, 0.8, 0.7, 0.6, 0.5, 0.4, 0.35, 0.3, 0.3, 0.3, 0.3, 0.3];
var cybeFullTailsRK1 = [1, 1, 1, 1, 1, 1, 1, 1, 1, 1, 1, 1, 1, 1, 1, 1, 1, 1, 1, 1, 1, 1, 1, 1, 1, 0.8, 0.7, 0.6, 0.5, 0.4, 0.35, 0.3, 0.25, 0.2, 0.2, 0.2];
var cybeTailsRK2 = [1, 1, 1, 1, 1, 1, 1, 1, 1, 1, 1, 1, 1, 1, 1, 1, 1, 1, 1, 1, 1, 1, 1, 1, 1, 1, 1, 1, 1, 1, 0.8, 0.65, 0.55, 0.5, 0.45, 0.45];

var cybeLateWT1 = [0.421, 0.431, 0.421, 0.459, 0.522, 0.59, 0.659, 0.734, 0.81, 0.866, 0.904, 0.935, 0.95, 0.954, 0.954, 0.951, 0.95, 0.947, 0.941, 0.929, 0.912, 0.891, 0.866, 0.841, 0.816, 0.791, 0.76, 0.728, 0.697, 0.672, 0.653, 0.641, 0.634, 0.628, 0.624, 0.624];
var cybeLateWT2 = [0.411, 0.415, 0.434, 0.497, 0.572, 0.653, 0.728, 0.81, 0.878, 0.916, 0.935, 0.944, 0.947, 0.947, 0.947, 0.945, 0.941, 0.937, 0.929, 0.916, 0.897, 0.875, 0.847, 0.816, 0.785, 0.747, 0.703, 0.659, 0.609, 0.565, 0.528, 0.497, 0.465, 0.44, 0.421, 0.411];
var cybeLateRF1 = [0.384, 0.378, 0.396, 0.446, 0.522, 0.603, 0.684, 0.772, 0.847, 0.897, 0.929, 0.944, 0.947, 0.947, 0.945, 0.941, 0.937, 0.935, 0.925, 0.91, 0.891, 0.866, 0.841, 0.812, 0.785, 0.753, 0.719, 0.684, 0.647, 0.609, 0.584, 0.565, 0.562, 0.559, 0.565, 0.559];
var cybeLateRF2 = [0.396, 0.39, 0.409, 0.465, 0.54, 0.622, 0.703, 0.791, 0.86, 0.904, 0.929, 0.941, 0.944, 0.941, 0.937, 0.935, 0.929, 0.922, 0.912, 0.897, 0.875, 0.85, 0.822, 0.797, 0.772, 0.741, 0.709, 0.678, 0.653, 0.634, 0.622, 0.616, 0.603, 0.584, 0.578, 0.578];
var cybeLateRK1 = [0.465, 0.459, 0.465, 0.547, 0.578, 0.622, 0.691, 0.772, 0.853, 0.91, 0.935, 0.947, 0.95, 0.954, 0.954, 0.954, 0.954, 0.954, 0.95, 0.945, 0.935, 0.922, 0.91, 0.897, 0.882, 0.862, 0.835, 0.803, 0.766, 0.716, 0.672, 0.634, 0.609, 0.584, 0.547, 0.512];
var cybeLateRK2 = [0.434, 0.434, 0.446, 0.484, 0.54, 0.609, 0.684, 0.766, 0.841, 0.885, 0.916, 0.929, 0.931, 0.931, 0.931, 0.929, 0.929, 0.929, 0.925, 0.916, 0.904, 0.885, 0.866, 0.841, 0.816, 0.791, 0.753, 0.722, 0.691, 0.659, 0.634, 0.609, 0.572, 0.528, 0.515, 0.509];
var cybeLateTailsWT1 = [0.5, 0.5, 0.6, 0.7, 0.8, 0.9, 1, 1, 1, 1, 1, 1, 1, 1, 1, 1, 1, 1, 1, 1, 1, 1, 1, 1, 1, 1, 1, 1, 1, 1, 1, 0.9, 0.85, 0.8, 0.8, 0.8];
var cybeLateTailsWT2 = [1, 1, 1, 1, 1, 1, 1, 1, 1, 1, 1, 1, 1, 1, 1, 1, 1, 1, 1, 1, 1, 1, 1, 1, 1, 0.8, 0.6, 0.45, 0.35, 0.3, 0.25, 0.2, 0.2, 0.15, 0.15, 0.15];
var cybeLateTailsRF1 = [1, 1, 1, 1, 1, 1, 1, 1, 1, 1, 1, 1, 1, 1, 1, 1, 1, 1, 1, 1, 1, 1, 0.8, 0.7, 0.6, 0.5, 0.45, 0.4, 0.35, 0.3, 0.25, 0.25, 0.2, 0.2, 0.2, 0.2];
var cybeLateTailsRF2 = [1, 1, 1, 1, 1, 1, 1, 1, 1, 1, 1, 1, 1, 1, 1, 1, 1, 1, 1, 1, 1, 1, 0.85, 0.75, 0.65, 0.55, 0.5, 0.45, 0.4, 0.35, 0.3, 0.3, 0.25, 0.25, 0.25, 0.25];
var cybeLateTailsRK1 = [1, 1, 1, 1, 1, 1, 1, 1, 1, 1, 1, 1, 1, 1, 1, 1, 1, 1, 1, 1, 1, 1, 1, 1, 1, 1, 0.85, 0.7, 0.55, 0.45, 0.35, 0.3, 0.25, 0.2, 0.2, 0.15];

// ---- Layout (pixels) ----
var svgWidth = 1653;
var svgHeight = 2166;
var FONT = '"Liberation Sans", Arial, Helvetica, sans-serif';
var colLeft = { x0: 90, x1: 533 };
var colMid = { x0: 648, x1: 1092 };
var colRight = { x0: 1206, x1: 1603 };
var sideStrip = { x0: 1606, x1: 1648 };
var rowA = { strip: [27, 76], panels: [[76, 411]], titleY: 484, label: "A", labelY: 24 };
var rowB = { strip: [536, 586], panels: [[586, 913], [930, 1258]], titleY: 1322, label: "B", labelY: 534 };
var rowC = { strip: [1375, 1425], panels: [[1425, 1748], [1765, 2097]], titleY: 2161, label: "C", labelY: 1369 };

// Line width for proportion of tails
var widthScale = d3.scalePow().exponent(0.75).domain([0, 1]).range([0.5, 8.5]);
// WT.2 drawn last so it sits on top
var drawOrder = [0, 2, 3, 4, 5, 1];

var svg = d3.select("#figure")
    .append("svg")
    .attr("width", svgWidth)
    .attr("height", svgHeight);

svg.append("rect")
    .attr("width", svgWidth)
    .attr("height", svgHeight)
    .attr("fill", "#ffffff");

function styleAxis(sel) {
    sel.select(".domain").remove();
    sel.selectAll(".tick line").attr("stroke", "#333333").attr("stroke-width", 1.6);
    sel.selectAll(".tick text")
        .attr("fill", "#4D4D4D")
        .style("font-size", "25px")
        .style("font-family", FONT);
}

// Draw one panel with its gridlines, lines, border and axes
function drawPanel(p) {
    var w = p.col.x1 - p.col.x0;
    var h = p.rows[1] - p.rows[0];
    var g = svg.append("g").attr("transform", `translate(${p.col.x0}, ${p.rows[0]})`);

    var x = d3.scaleLinear().domain(p.xDomain).range([0, w]);
    var y = d3.scaleLinear().domain(p.yDomain).range([h, 0]);

    g.append("rect")
        .attr("width", w)
        .attr("height", h)
        .attr("fill", p.empty ? "#E5E5E5" : "#ffffff");

    if (!p.empty) {
        // minor gridlines
        g.selectAll(".vminor").data(p.xMinor).enter().append("line")
            .attr("x1", d => x(d)).attr("x2", d => x(d))
            .attr("y1", 0).attr("y2", h)
            .attr("stroke", "#EBEBEB").attr("stroke-width", 1.3);
        g.selectAll(".hminor").data(p.yMinor).enter().append("line")
            .attr("x1", 0).attr("x2", w)
            .attr("y1", d => y(d)).attr("y2", d => y(d))
            .attr("stroke", "#EBEBEB").attr("stroke-width", 1.3);
        // major gridlines
        g.selectAll(".vmajor").data(p.xTicks).enter().append("line")
            .attr("x1", d => x(d)).attr("x2", d => x(d))
            .attr("y1", 0).attr("y2", h)
            .attr("stroke", "#EBEBEB").attr("stroke-width", 2.6);
        g.selectAll(".hmajor").data(p.yTicks).enter().append("line")
            .attr("x1", 0).attr("x2", w)
            .attr("y1", d => y(d)).attr("y2", d => y(d))
            .attr("stroke", "#EBEBEB").attr("stroke-width", 2.6);

        // lines, one segment at a time so the width can change
        drawOrder.forEach(function (k) {
            var vals = p.vals[k];
            var tails = p.tails[k];
            var segs = [];
            for (var i = 0; i < p.pos.length - 1; i++) {
                if (vals[i] == null || vals[i + 1] == null) continue;
                segs.push({
                    x1: p.pos[i], y1: vals[i],
                    x2: p.pos[i + 1], y2: vals[i + 1],
                    t: (tails[i] + tails[i + 1]) / 2
                });
            }
            g.append("g").selectAll("line")
                .data(segs)
                .enter()
                .append("line")
                .attr("x1", d => x(d.x1))
                .attr("y1", d => y(d.y1))
                .attr("x2", d => x(d.x2))
                .attr("y2", d => y(d.y2))
                .attr("stroke", lineColors[k])
                .attr("stroke-width", d => widthScale(d.t))
                .attr("stroke-linecap", "round");
        });
    }

    g.append("rect")
        .attr("width", w)
        .attr("height", h)
        .attr("fill", "none")
        .attr("stroke", "#333333")
        .attr("stroke-width", 1.6);

    // y axis on every panel
    var yAxis = g.append("g")
        .call(d3.axisLeft(y).tickValues(p.yTicks).tickSize(8).tickPadding(7).tickFormat(d3.format(".1f")));
    styleAxis(yAxis);

    // x axis only under the bottom panel of a column
    if (p.showX) {
        var xAxis = g.append("g")
            .attr("transform", `translate(0, ${h})`)
            .call(d3.axisBottom(x).tickValues(p.xTicks).tickSize(8).tickPadding(6).tickFormat(d3.format("d")));
        styleAxis(xAxis);
    }
}

function drawTopStrip(col, row, label) {
    svg.append("rect")
        .attr("x", col.x0)
        .attr("y", row.strip[0])
        .attr("width", col.x1 - col.x0)
        .attr("height", row.strip[1] - row.strip[0])
        .attr("fill", "#D9D9D9")
        .attr("stroke", "#333333")
        .attr("stroke-width", 1.6);
    svg.append("text")
        .attr("x", (col.x0 + col.x1) / 2)
        .attr("y", (row.strip[0] + row.strip[1]) / 2)
        .attr("dy", "0.36em")
        .attr("text-anchor", "middle")
        .style("font-family", FONT)
        .style("font-size", "26px")
        .attr("fill", "#1A1A1A")
        .text(label);
}

function drawSideStrip(rowRange, label) {
    svg.append("rect")
        .attr("x", sideStrip.x0)
        .attr("y", rowRange[0])
        .attr("width", sideStrip.x1 - sideStrip.x0)
        .attr("height", rowRange[1] - rowRange[0])
        .attr("fill", "#D9D9D9")
        .attr("stroke", "#333333")
        .attr("stroke-width", 1.6);
    var cx = (sideStrip.x0 + sideStrip.x1) / 2;
    var cy = (rowRange[0] + rowRange[1]) / 2;
    svg.append("text")
        .attr("transform", `translate(${cx}, ${cy}) rotate(90)`)
        .attr("dy", "0.36em")
        .attr("text-anchor", "middle")
        .style("font-family", FONT)
        .style("font-size", "26px")
        .attr("fill", "#1A1A1A")
        .text(label);
}

function drawRowText(row) {
    svg.append("text")
        .attr("x", 6)
        .attr("y", row.labelY)
        .style("font-family", FONT)
        .style("font-size", "25px")
        .style("font-weight", "bold")
        .text(row.label);
    var top = row.panels[0][0];
    var bottom = row.panels[row.panels.length - 1][1];
    svg.append("text")
        .attr("transform", `translate(24, ${(top + bottom) / 2}) rotate(-90)`)
        .attr("text-anchor", "middle")
        .style("font-family", FONT)
        .style("font-size", "27px")
        .text("Proportion of adenine");
}

function drawXTitle(col, row) {
    svg.append("text")
        .attr("x", (col.x0 + col.x1) / 2)
        .attr("y", row.titleY)
        .attr("text-anchor", "middle")
        .style("font-family", FONT)
        .style("font-size", "27px")
        .text("Position in tail");
}

// ---- Panel table built from the arrays above ----
var panels = [
    { col: colLeft, rows: rowA.panels[0], pos: co1Pos, vals: [co1WT1, co1WT2, co1RF1, co1RF2, co1RK1, co1RK2],
      tails: [co1Tails, co1Tails, co1Tails, co1Tails, co1Tails, co1Tails],
      xDomain: [-0.4, 52.4], yDomain: [0.53, 1.022], xTicks: xTicks50, xMinor: xMinor50, yTicks: yTicksA, yMinor: yMinorA, showX: true },
    { col: colMid, rows: rowA.panels[0], pos: nd1Pos, vals: [nd1WT1, nd1WT2, nd1RF1, nd1RF2, nd1RK1, nd1RK2],
      tails: [nd1TailsWT1, nd1TailsWT2, nd1TailsRF1, nd1TailsRF2, nd1TailsRK1, nd1TailsRK2],
      xDomain: [-0.4, 52.4], yDomain: [0.53, 1.022], xTicks: xTicks50, xMinor: xMinor50, yTicks: yTicksA, yMinor: yMinorA, showX: true },

    { col: colLeft, rows: rowB.panels[0], pos: a6pPos, vals: [a6pPreWT1, a6pPreWT2, a6pPreRF1, a6pPreRF2, a6pPreRK1, a6pPreRK2],
      tails: [a6pPreTailsWT1, a6pPreTailsWT2, a6pPreTailsRF1, a6pPreTailsRF2, a6pPreTailsRK, a6pPreTailsRK],
      xDomain: [-1.75, 36.75], yDomain: [0.685, 1.016], xTicks: xTicks30, xMinor: xMinor35, yTicks: yTicksB, yMinor: yMinorB, showX: false },
    { col: colLeft, rows: rowB.panels[1], pos: a6pPos, vals: [a6pEarlyWT1, a6pEarlyWT2, a6pEarlyRF1, a6pEarlyRF2, a6pEarlyRK1, a6pEarlyRK2],
      tails: [a6pEarlyTailsWT, a6pEarlyTailsWT, a6pEarlyTailsRF, a6pEarlyTailsRF, a6pEarlyTailsRK, a6pEarlyTailsRK],
      xDomain: [-1.75, 36.75], yDomain: [0.685, 1.016], xTicks: xTicks30, xMinor: xMinor35, yTicks: yTicksB, yMinor: yMinorB, showX: true },

    { col: colMid, rows: rowB.panels[0], pos: rpsPPos, vals: [rpsPreWT1, rpsPreWT2, rpsPreRF1, rpsPreRF2, rpsPreRK1, rpsPreRK2],
      tails: [rpsPreTailsWT1, rpsPreTailsWT2, rpsPreTailsRF1, rpsPreTailsRF2, rpsPreTailsRK1, rpsPreTailsRK2],
      xDomain: [-0.4, 52.4], yDomain: [0.685, 1.016], xTicks: xTicks50, xMinor: xMinor50, yTicks: yTicksB, yMinor: yMinorB, showX: false },
    { col: colMid, rows: rowB.panels[1], pos: rpsPPos, vals: [rpsEarlyWT1, rpsEarlyWT2, rpsEarlyRF1, rpsEarlyRF2, rpsEarlyRK1, rpsEarlyRK2],
      tails: [rpsEarlyTailsWT1, rpsEarlyTailsWT2, rpsEarlyTailsRF1, rpsEarlyTailsRF2, rpsEarlyTailsRK1, rpsEarlyTailsRK2],
      xDomain: [-0.4, 52.4], yDomain: [0.685, 1.016], xTicks: xTicks50, xMinor: xMinor50, yTicks: yTicksB, yMinor: yMinorB, showX: true },

    { col: colRight, rows: rowB.panels[0], pos: cybpPos, vals: [cybpWT1, cybpWT2, cybpRF1, cybpRF2, cybpRK1, cybpRK2],
      tails: [cybpTailsWT, cybpTailsWT, cybpTailsOther, cybpTailsOther, cybpTailsOther, cybpTailsOther],
      xDomain: [-0.65, 57.65], yDomain: [0.216, 1.039], xTicks: xTicks50, xMinor: xMinor55, yTicks: yTicksCy, yMinor: yMinorCy, showX: false },
    { col: colRight, rows: rowB.panels[1], empty: true,
      xDomain: [-0.65, 57.65], yDomain: [0.216, 1.039], xTicks: xTicks50, xMinor: xMinor55, yTicks: yTicksCy, yMinor: yMinorCy, showX: true },

    { col: colLeft, rows: rowC.panels[0], pos: a6ePos, vals: [a6eFullWT1, a6eFullWT2, a6eFullRF1, a6eFullRF2, a6eFullRK1, a6eFullRK2],
      tails: [a6eFullTailsOther, a6eFullTailsWT2, a6eFullTailsOther, a6eFullTailsOther, a6eFullTailsRK1, a6eFullTailsOther],
      xDomain: [-1.46, 31.46], yDomain: [0.373, 1.031], xTicks: xTicks30, xMinor: xMinor30, yTicks: yTicksCy, yMinor: yMinorA6e, showX: false },
    { col: colLeft, rows: rowC.panels[1], pos: a6ePos, vals: [a6eLateWT1, a6eLateWT2, a6eLateRF1, a6eLateRF2, a6eLateRK1, a6eLateRK2],
      tails: [a6eLateTailsWT1, a6eLateTailsWT2, a6eLateTailsRF1, a6eLateTailsRF2, a6eLateTailsRK1, a6eLateTailsRK2],
      xDomain: [-1.46, 31.46], yDomain: [0.373, 1.031], xTicks: xTicks30, xMinor: xMinor30, yTicks: yTicksCy, yMinor: yMinorA6e, showX: true },

    { col: colMid, rows: rowC.panels[0], pos: rpsEPos, vals: [rpsFullWT1, rpsFullWT2, rpsFullRF1, rpsFullRF2, rpsFullRK1, rpsFullRK2],
      tails: [rpsFullTailsWT1, rpsFullTailsWT2, rpsFullTailsRF, rpsFullTailsRF, rpsFullTailsRF, rpsFullTailsRK2],
      xDomain: [0.35, 36.65], yDomain: [0.707, 1.015], xTicks: xTicksRpsE, xMinor: xMinor35, yTicks: yTicksRpsE, yMinor: yMinorB, showX: false },
    { col: colMid, rows: rowC.panels[1], pos: rpsEPos, vals: [rpsLateWT1, rpsLateWT2, rpsLateRF1, rpsLateRF2, rpsLateRK1, rpsLateRK2],
      tails: [rpsLateTailsWT1, rpsLateTailsWT2, rpsLateTailsOther, rpsLateTailsOther, rpsLateTailsOther, rpsLateTailsOther],
      xDomain: [0.35, 36.65], yDomain: [0.707, 1.015], xTicks: xTicksRpsE, xMinor: xMinor35, yTicks: yTicksRpsE, yMinor: yMinorB, showX: true },

    { col: colRight, rows: rowC.panels[0], pos: cybePos, vals: [cybeFullWT1, cybeFullWT2, cybeFullRF1, cybeFullRF2, cybeFullRK1, cybeFullRK2],
      tails: [cybeFullTailsWT1, cybeFullTailsWT2, cybeFullTailsRF1, cybeFullTailsRF2, cybeFullTailsRK1, cybeTailsRK2],
      xDomain: [-1.4, 73.4], yDomain: [0.27, 1.036], xTicks: xTicks70, xMinor: xMinor70, yTicks: yTicksCy, yMinor: yMinorCy, showX: false },
    { col: colRight, rows: rowC.panels[1], pos: cybePos, vals: [cybeLateWT1, cybeLateWT2, cybeLateRF1, cybeLateRF2, cybeLateRK1, cybeLateRK2],
      tails: [cybeLateTailsWT1, cybeLateTailsWT2, cybeLateTailsRF1, cybeLateTailsRF2, cybeLateTailsRK1, cybeTailsRK2],
      xDomain: [-1.4, 73.4], yDomain: [0.27, 1.036], xTicks: xTicks70, xMinor: xMinor70, yTicks: yTicksCy, yMinor: yMinorCy, showX: true }
];

panels.forEach(drawPanel);

// Strips
drawTopStrip(colLeft, rowA, "CO1");
drawTopStrip(colMid, rowA, "ND1");
drawTopStrip(colLeft, rowB, "A6p");
drawTopStrip(colMid, rowB, "RPS12p");
drawTopStrip(colRight, rowB, "CYbp");
drawTopStrip(colLeft, rowC, "A6e");
drawTopStrip(colMid, rowC, "RPS12e");
drawTopStrip(colRight, rowC, "CYbe");
drawSideStrip(rowB.panels[0], "Pre\u2212edited");
drawSideStrip(rowB.panels[1], "Early edited");
drawSideStrip(rowC.panels[0], "Fully edited");
drawSideStrip(rowC.panels[1], "Late edited");

// Row labels, y titles and x titles
[rowA, rowB, rowC].forEach(drawRowText);
drawXTitle(colLeft, rowA);
drawXTitle(colMid, rowA);
drawXTitle(colMid, rowB);
drawXTitle(colMid, rowC);

// ---- Legend ----
var legend = svg.append("g");
legend.append("rect")
    .attr("x", 1152)
    .attr("y", 82)
    .attr("width", 469)
    .attr("height", 352)
    .attr("fill", "#ffffff")
    .attr("stroke", "#1A1A1A")
    .attr("stroke-width", 1.8);

legend.append("text")
    .attr("x", 1201).attr("y", 119)
    .style("font-family", FONT).style("font-size", "27px")
    .text("Cell line");
legend.append("text")
    .attr("x", 1392).attr("y", 119)
    .style("font-family", FONT).style("font-size", "27px")
    .text("Proportion of tails");

var legendRow = d3.scaleLinear().domain([0, 5]).range([159.5, 396]);

legend.selectAll(".cellKey")
    .data(cellLines)
    .enter()
    .append("line")
    .attr("x1", 1172).attr("x2", 1210)
    .attr("y1", (d, i) => legendRow(i))
    .attr("y2", (d, i) => legendRow(i))
    .attr("stroke", (d, i) => lineColors[i])
    .attr("stroke-width", 1.8);

legend.selectAll(".cellLabel")
    .data(cellLines)
    .enter()
    .append("text")
    .attr("x", 1229)
    .attr("y", (d, i) => legendRow(i))
    .attr("dy", "0.36em")
    .style("font-family", FONT).style("font-size", "24px")
    .text(d => d);

legend.selectAll(".tailKey")
    .data(tailLevels)
    .enter()
    .append("line")
    .attr("x1", 1396).attr("x2", 1434)
    .attr("y1", (d, i) => legendRow(i))
    .attr("y2", (d, i) => legendRow(i))
    .attr("stroke", "#000000")
    .attr("stroke-width", d => widthScale(d));

legend.selectAll(".tailLabel")
    .data(tailLabels)
    .enter()
    .append("text")
    .attr("x", 1452)
    .attr("y", (d, i) => legendRow(i))
    .attr("dy", "0.36em")
    .style("font-family", FONT).style("font-size", "24px")
    .text(d => d);
</script>
</body>
</html>
